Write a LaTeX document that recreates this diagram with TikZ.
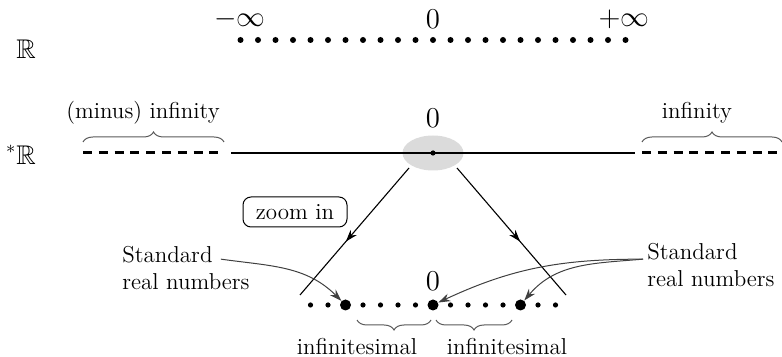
\documentclass[tikz,border=0pt]{standalone}
\usepackage{amsmath,amssymb}
\usetikzlibrary{arrows.meta,shapes.geometric,positioning,decorations.markings,decorations.pathreplacing}

\begin{document}
\begin{tikzpicture}[
    x=0.5pt, y=0.5pt,
    every node/.style={font=\fontsize{11.5}{13.5}\selectfont, text=black},
    mth/.style={font=\fontsize{13.5}{16}\selectfont, inner sep=1pt},
    dottop/.style={circle, fill=black, inner sep=0pt, minimum size=3pt},
    dotsm/.style={circle, fill=black, inner sep=0pt, minimum size=2.6pt},
    dotbig/.style={circle, fill=black, inner sep=0pt, minimum size=5.5pt},
    brc/.style={decorate, decoration={brace, amplitude=5pt}, black!65, line width=0.5pt},
    brcm/.style={decorate, decoration={brace, amplitude=5pt, mirror}, black!65, line width=0.5pt},
    zarr/.style={line width=0.55pt, decoration={markings, mark=at position 0.58 with {\arrow{Stealth[length=6pt,width=4pt]}}}, postaction={decorate}},
    carr/.style={-{Stealth[length=6pt,width=4pt]}, black!75, line width=0.5pt},
    dsh/.style={line width=1.5pt, dash pattern=on 4.5pt off 3.4pt},
    zbox/.style={draw, rounded corners=4pt, minimum width=52pt, minimum height=15pt, line width=0.5pt}
]
\useasboundingbox (0,0) rectangle (782,-357);

% standard line
\node[mth] (rl) at (26,-49) {$\mathbb{R}$};
\foreach \k in {-11,...,11}
    \node[dottop] (r\k) at (433+17.5*\k,-40) {};
\node[mth] (minf) at (240,-19) {$-\infty$};
\node[mth] (zr) at (433,-19) {$0$};
\node[mth] (pinf) at (624,-19) {$+\infty$};

% hyperreal line
\node[mth] (hrl) at (21,-155) {${}^*\mathbb{R}$};
\node[ellipse, fill=black!14, minimum width=30.5pt, minimum height=17.5pt, inner sep=0pt] (zoomarea) at (433,-153) {};
\draw[dsh] (83,-153) -- (224,-153);
\draw[line width=1.3pt] (231,-153) -- (635,-153);
\draw[dsh] (642,-153) -- (782,-153);
\node[dotsm] (hz) at (433,-153) {};
\node[mth] (zs) at (433,-118) {$0$};
\draw[brc] (83,-142) -- (224,-142);
\draw[brc] (642,-142) -- (782,-142);
\node (minfl) at (143,-113) {(minus) infinity};
\node (infl) at (697,-113) {infinity};

% zoom
\coordinate (zl0) at (409,-168);
\coordinate (zl1) at (300,-295);
\coordinate (zr0) at (457,-168);
\coordinate (zr1) at (566,-295);
\draw[zarr] (zl0) -- (zl1);
\draw[zarr] (zr0) -- (zr1);
\node[zbox] (zoom) at (295,-212) {zoom in};

% zoomed line
\foreach \k in {-7,-6,-4,-3,-2,-1,1,2,3,4,6,7}
    \node[dotsm] (z\k) at (433+17.5*\k,-305) {};
\node[dotbig] (sL) at (345.5,-305) {};
\node[dotbig] (s0) at (433,-305) {};
\node[dotbig] (sR) at (520.5,-305) {};
\node[mth] (zb) at (433,-281) {$0$};
\draw[brcm] (357,-320) -- (431,-320);
\draw[brcm] (436,-320) -- (512,-320);
\node[anchor=base] (infsL) at (357,-355) {infinitesimal};
\node[anchor=base] (infsR) at (507,-355) {infinitesimal};

% labels
\node[anchor=base west, inner sep=0pt] (stdL) at (122,-263) {Standard};
\node[anchor=base west, inner sep=0pt] (realL) at (122,-290) {real numbers};
\node[anchor=base west, inner sep=0pt] (stdR) at (647,-260) {Standard};
\node[anchor=base west, inner sep=0pt] (realR) at (647,-287) {real numbers};
\draw[carr] ([xshift=4pt,yshift=-2pt]stdL.east) to[out=-8,in=135] (sL);
\draw[carr] ([xshift=-2pt,yshift=-3.5pt]stdR.west) to[out=180,in=25] (s0);
\draw[carr] ([xshift=-2pt,yshift=-3.5pt]stdR.west) to[out=185,in=50] (sR);
\end{tikzpicture}
\end{document}
